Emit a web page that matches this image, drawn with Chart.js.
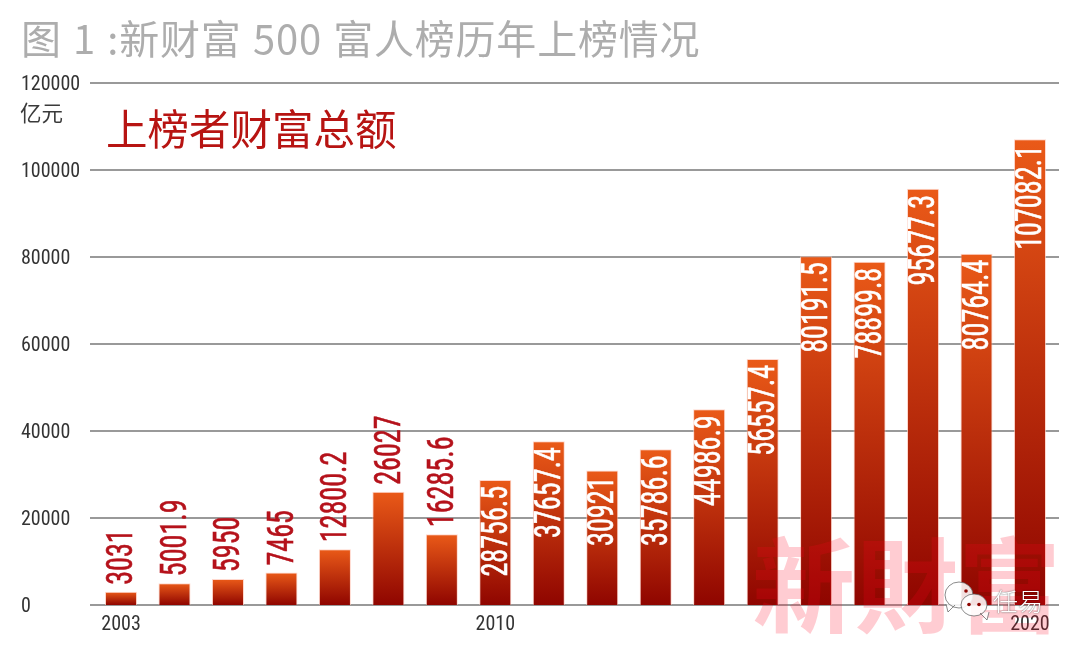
<!DOCTYPE html>
<html>
<head>
<meta charset="utf-8">
<title>新财富500富人榜</title>
<script src="https://cdn.jsdelivr.net/npm/chart.js@4"></script>
<style>
  html, body { margin: 0; padding: 0; background: #fff; }
  #wrap { position: relative; width: 1080px; height: 649px; overflow: hidden; }
  #wrap span { position: absolute; white-space: nowrap; font-family: "Noto Sans CJK SC", sans-serif; }
  #title { left: 21px; top: 9px; font-size: 40px; line-height: 56px; font-weight: 400; letter-spacing: 0.8px; word-spacing: 1.5px; color: #adadad; }
  #unit { left: 20px; top: 97px; font-size: 21.5px; line-height: 30px; color: #3a3a3a; }
  #sub { left: 106px; top: 97px; font-size: 41.5px; line-height: 60px; color: #b71412; }
</style>
</head>
<body>
<div id="wrap">
  <canvas id="myChart" width="1080" height="649"></canvas>
  <span id="title">图 1 :新财富 500 富人榜历年上榜情况</span>
  <span id="unit">亿元</span>
  <span id="sub">上榜者财富总额</span>
</div>
<script>
const years = ["2003", "2004", "2005", "2006", "2007", "2008", "2009", "2010", "2011",
  "2012", "2013", "2014", "2015", "2016", "2017", "2018", "2019", "2020"];
const totals = [3031, 5001.9, 5950, 7465, 12800.2, 26027, 16285.6, 28756.5, 37657.4,
  30921, 35786.6, 44986.9, 56557.4, 80191.5, 78899.8, 95677.3, 80764.4, 107082.1];
const shownYears = ["2003", "2010", "2020"];
const watermark = "新財富";
const narrow = '"Liberation Sans Narrow", "Roboto Condensed", Roboto, sans-serif';

// gradient runs over each bar on its own, orange top to dark red at the axis
const barGradient = function (context) {
  const { chart, dataIndex } = context;
  const { ctx, scales } = chart;
  const top = scales.y ? scales.y.getPixelForValue(totals[dataIndex]) : NaN;
  const bottom = scales.y ? scales.y.getPixelForValue(0) : NaN;
  if (!isFinite(top) || !isFinite(bottom)) return "#c0300f"; // scale not ready on first pass
  const g = ctx.createLinearGradient(0, top, 0, bottom);
  g.addColorStop(0, "#ea5a18");
  g.addColorStop(1, "#8f0500");
  return g;
};

// long grid lines, they stick out a bit past the plot on both sides
const gridLines = {
  id: "gridLines",
  beforeDatasetsDraw(chart) {
    const { ctx, scales } = chart;
    ctx.save();
    ctx.strokeStyle = "#777";
    ctx.lineWidth = 1.5;
    scales.y.ticks.forEach(function (tick) {
      const y = scales.y.getPixelForValue(tick.value);
      ctx.beginPath();
      ctx.moveTo(90, y);
      ctx.lineTo(1059, y);
      ctx.stroke();
    });
    ctx.restore();
  },
};

// rotated value labels, white inside the tall bars, red above the short ones
const valueLabels = {
  id: "valueLabels",
  afterDatasetsDraw(chart) {
    const { ctx } = chart;
    // pink watermark goes under the labels
    ctx.save();
    ctx.font = '700 103px "Noto Sans CJK TC"';
    ctx.fillStyle = "rgba(255, 0, 30, 0.2)";
    ctx.textBaseline = "alphabetic";
    ctx.textAlign = "left";
    ctx.fillText(watermark, 752, 625);
    ctx.restore();

    chart.getDatasetMeta(0).data.forEach(function (bar, i) {
      const inside = totals[i] > 28000;
      const color = inside ? "#fff" : "#b5121b";
      ctx.save();
      ctx.translate(bar.x + 1, inside ? bar.y + 6 : bar.y - 7);
      ctx.rotate(-Math.PI / 2);
      ctx.scale(0.76, 1);
      ctx.font = `37px ${narrow}`;
      ctx.textBaseline = "middle";
      ctx.textAlign = inside ? "right" : "left";
      ctx.fillStyle = color;
      ctx.strokeStyle = color;
      ctx.lineWidth = 0.6;
      ctx.fillText(String(totals[i]), 0, 1);
      ctx.strokeText(String(totals[i]), 0, 1);
      ctx.restore();
    });
  },
};

// wechat account mark in the corner
const accountMark = {
  id: "accountMark",
  afterDraw(chart) {
    const { ctx } = chart;
    const bubble = function (x, y, rx, ry, tailX, tailDir) {
      ctx.beginPath();
      ctx.ellipse(x, y, rx, ry, 0, 0, Math.PI * 2);
      ctx.moveTo(tailX, y + ry - 3);
      ctx.lineTo(tailX + tailDir * 7, y + ry + 4);
      ctx.lineTo(tailX + tailDir * 9, y + ry - 4);
      ctx.fill();
      ctx.stroke();
    };
    ctx.save();
    ctx.lineWidth = 1;
    ctx.strokeStyle = "rgba(90, 90, 90, 0.7)";
    ctx.fillStyle = "rgba(255, 255, 255, 0.88)";
    bubble(959, 595, 14, 13, 955, -1);
    bubble(974, 605, 13, 11, 980, 1);
    ctx.fillStyle = "#8f0500";
    [[966, 591], [969, 604.5], [979, 604.5]].forEach(function (p) {
      ctx.beginPath();
      ctx.arc(p[0], p[1], 1.8, 0, Math.PI * 2);
      ctx.fill();
    });
    ctx.font = '200 25px "Noto Sans CJK SC"';
    ctx.textBaseline = "alphabetic";
    ctx.fillStyle = "#fff";
    ctx.shadowColor = "rgba(0, 0, 0, 0.8)";
    ctx.shadowBlur = 1.5;
    ctx.fillText("任易", 993, 611);
    ctx.restore();
  },
};

new Chart(document.getElementById("myChart"), {
  type: "bar",
  data: {
    labels: years,
    datasets: [
      {
        data: totals,
        backgroundColor: barGradient,
        borderColor: "rgba(255, 200, 185, 0.7)",
        borderWidth: { top: 1, left: 1, right: 1, bottom: 0 },
        borderSkipped: false,
        categoryPercentage: 1,
        barPercentage: 0.6,
      },
    ],
  },
  options: {
    responsive: false,
    animation: false,
    events: [],
    layout: { padding: { top: 83, right: 23.3, bottom: 0, left: 21 } },
    plugins: { legend: { display: false }, tooltip: { enabled: false }, title: { display: false } },
    scales: {
      x: {
        afterFit(scale) {
          scale.height = 44;
        },
        grid: { display: false },
        border: { display: false },
        ticks: {
          autoSkip: false,
          maxRotation: 0,
          minRotation: 0,
          padding: 0,
          color: "#333",
          font: { family: narrow, size: 20 },
          callback: function (value) {
            const year = this.getLabelForValue(value);
            return shownYears.includes(year) ? year : "";
          },
        },
      },
      y: {
        min: 0,
        max: 120000,
        afterFit(scale) {
          scale.width = 73.3;
        },
        grid: { display: false },
        border: { display: false },
        ticks: {
          stepSize: 20000,
          crossAlign: "far",
          padding: 0,
          labelOffset: 2,
          color: "#333",
          font: { family: narrow, size: 20 },
          callback: function (value) {
            return String(value); // no thousands comma on this chart
          },
        },
      },
    },
  },
  plugins: [gridLines, valueLabels, accountMark],
});
</script>
</body>
</html>
